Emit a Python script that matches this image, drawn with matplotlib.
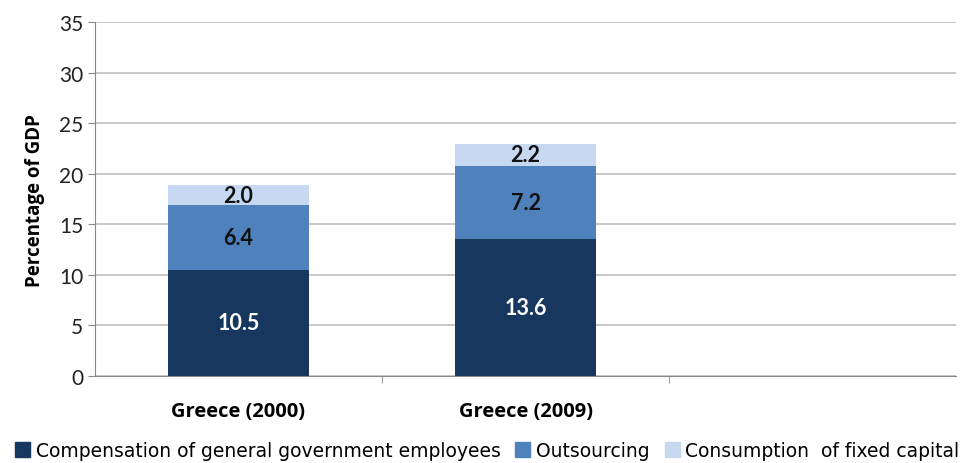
import numpy as np
import matplotlib.pyplot as plt
from matplotlib.patches import Patch

# Daten: Anteile am BIP in %
kategorien = ["Greece (2000)", "Greece (2009)", ""]
verguetung = [10.5, 13.6, 0]
outsourcing = [6.4, 7.2, 0]
abschreibung = [2.0, 2.2, 0]
serien = ["Compensation of general government employees", "Outsourcing",
          "Consumption  of fixed capital"]
farben = ["#17375E", "#4F81BD", "#C6D9F1"]

plt.rcParams['font.family'] = ['Lato', 'DejaVu Sans']

fig = plt.figure(figsize=(9.68, 4.64), dpi=100)
ax = fig.add_axes([0.098, 0.1875, 0.89, 0.7625])

x = np.arange(len(kategorien))
n = 2  # nur die ersten beiden Kategorien haben Werte
b = 0.49
unten = np.zeros(n)
for werte, farbe, txtfarbe in zip([verguetung, outsourcing, abschreibung], farben,
                                  ["white", "#111111", "#111111"]):
    w = np.array(werte[:n])
    bars = ax.bar(x[:n], w, b, bottom=unten, color=farbe, zorder=3)
    ax.bar_label(bars, labels=["%.1f" % v for v in w], label_type='center',
                 color=txtfarbe, fontsize=15.5, fontweight='bold')
    unten += w

ax.set_xlim(-0.5, 2.5)
ax.set_ylim(0, 35)
ax.set_yticks(np.arange(0, 36, 5))
ax.tick_params(axis='y', labelsize=15, length=5, color="#888888", colors="#222222")
ax.set_xticks(x[:n])
ax.set_xticklabels(kategorien[:n], fontsize=14.5, fontweight='bold',
                   family=['Open Sans', 'DejaVu Sans'])
ax.set_xticks([0.5, 1.5], minor=True)
ax.tick_params(axis='x', which='major', length=0, pad=18)
ax.tick_params(axis='x', which='minor', length=5, color="#888888")
ax.set_ylabel("Percentage of GDP", fontsize=13.5, fontweight='bold', labelpad=10,
              family=['Open Sans', 'DejaVu Sans'])
ax.yaxis.grid(True, color="#BFBFBF", lw=1.2, zorder=0)
for s in ["top", "right"]:
    ax.spines[s].set_visible(False)
for s in ["left", "bottom"]:
    ax.spines[s].set_color("#888888")

handles = [Patch(color=f) for f in farben]
fig.legend(handles, serien, loc='lower left', bbox_to_anchor=(-0.002, -0.03), ncol=3,
           frameon=False, prop={'family': 'DejaVu Sans', 'size': 13.5},
           handlelength=0.8, handleheight=0.9, handletextpad=0.3, columnspacing=0.8)

fig.savefig("out.png", dpi=100)
